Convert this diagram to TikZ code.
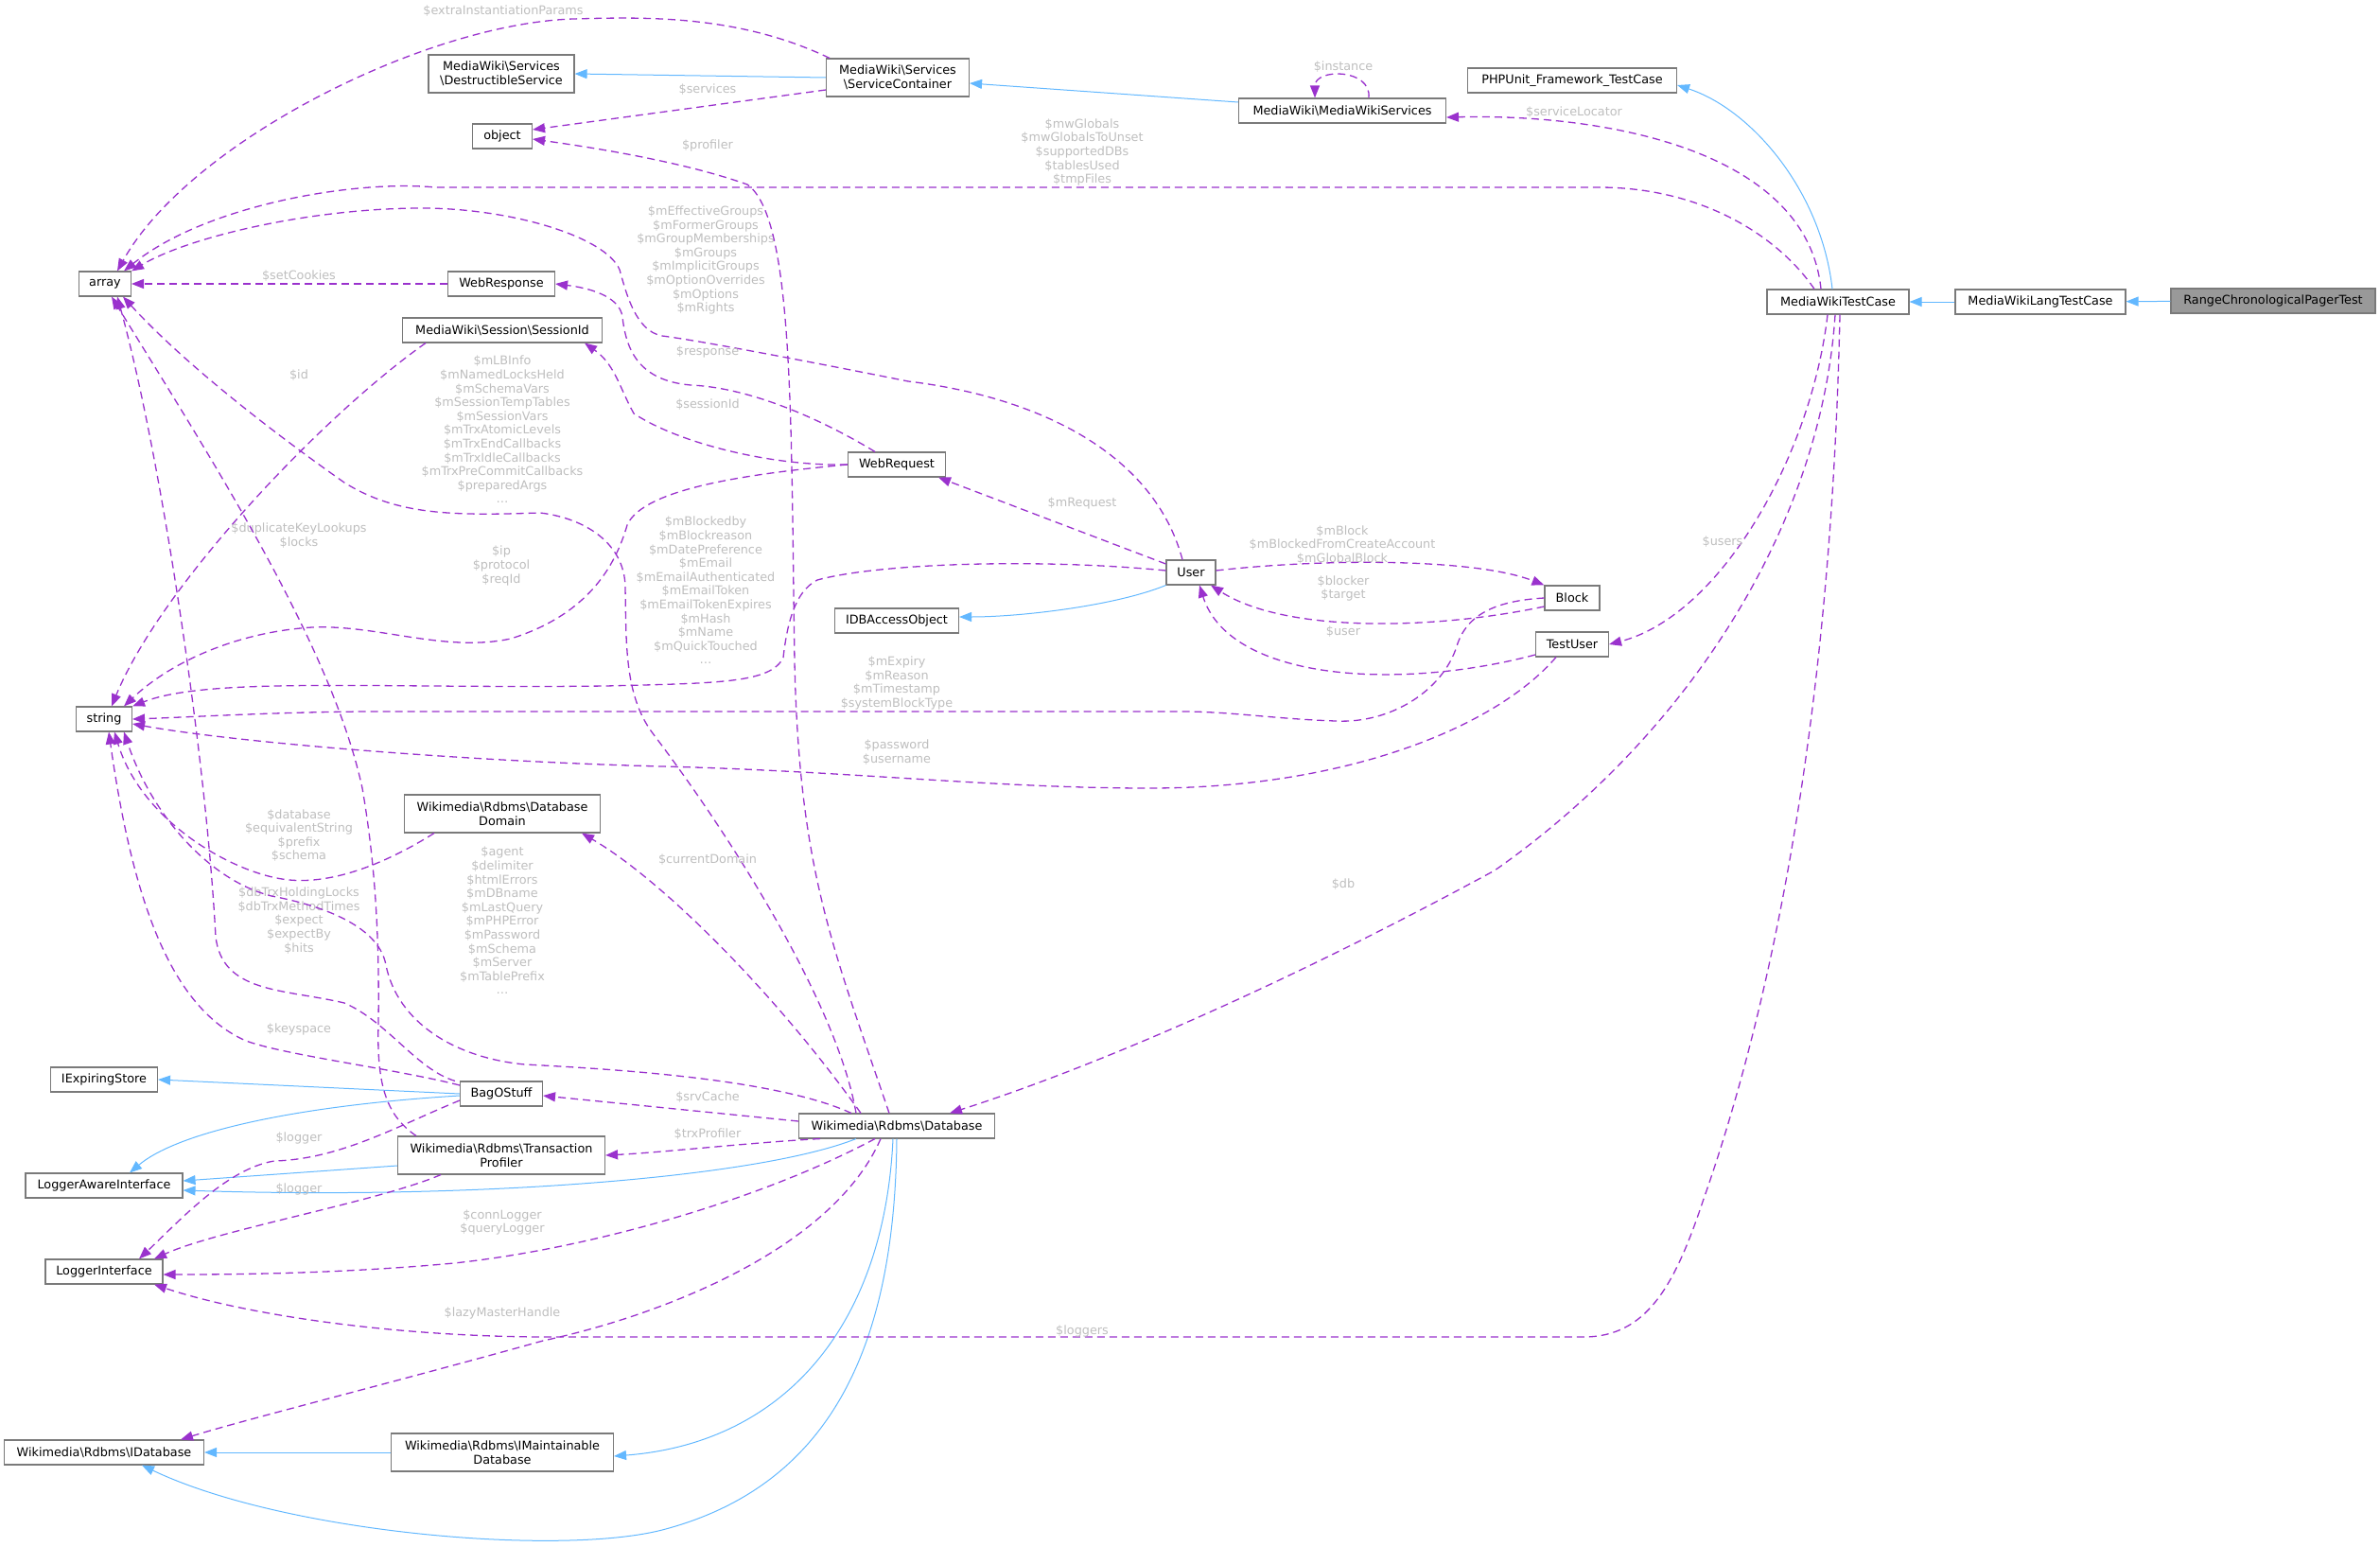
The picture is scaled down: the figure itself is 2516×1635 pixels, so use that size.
\documentclass[tikz,border=0pt]{standalone}
\usepackage{fontspec}
\setmainfont{DejaVu Sans}
\usetikzlibrary{arrows.meta}
\definecolor{inhblue}{HTML}{63B8FF}
\definecolor{usepurple}{HTML}{9A32CD}
\definecolor{lblgray}{HTML}{BEBEBE}
\definecolor{boxgray}{HTML}{7A7A7A}
\definecolor{curgray}{HTML}{999999}
\newcommand{\nsep}{\textbackslash}
\begin{document}
\begin{tikzpicture}[x=1pt, y=-1pt,
    cls/.style={draw=boxgray, fill=white, line width=1.1pt, font=\fontsize{12.8}{14.6}\selectfont, inner xsep=4pt, inner ysep=3pt, minimum height=26pt, align=center},
    cls2/.style={cls, minimum height=40pt},
    inh/.style={draw=inhblue, line width=1pt, -{Triangle[length=13pt,width=10pt]}},
    use/.style={draw=usepurple, line width=1.3pt, dash pattern=on 8pt off 5pt, -{Triangle[length=13pt,width=10pt]}},
    lbl/.style={text=lblgray, font=\fontsize{12.8}{14.6}\selectfont, align=center, inner sep=0pt}]
\useasboundingbox (0,0) rectangle (2516,1635);
% Classes
\node[cls, fill=curgray, minimum width=216pt] (rcpt) at (2403,318) {RangeChronologicalPagerTest};
\node[cls, minimum width=180pt] (mwlang) at (2157,319) {MediaWikiLangTestCase};
\node[cls, minimum width=150pt] (mwtc) at (1943,319) {MediaWikiTestCase};
\node[cls, minimum width=221pt] (phpunit) at (1662,85) {PHPUnit\_Framework\_TestCase};
\node[cls, minimum width=219pt] (mws) at (1419,117) {MediaWiki\nsep MediaWikiServices};
\node[cls2, minimum width=151pt] (sc) at (949,82) {MediaWiki\nsep Services\\\nsep ServiceContainer};
\node[cls2, minimum width=154pt] (ds) at (530,78) {MediaWiki\nsep Services\\\nsep DestructibleService};
\node[cls, minimum width=63pt] (obj) at (531,144) {object};
\node[cls, minimum width=55pt] (arr) at (111,300) {array};
\node[cls, minimum width=113pt] (wresp) at (530,300) {WebResponse};
\node[cls, minimum width=211pt] (sid) at (531,349) {MediaWiki\nsep Session\nsep SessionId};
\node[cls, minimum width=103pt] (wreq) at (948,491) {WebRequest};
\node[cls, minimum width=52pt] (usr) at (1259,605) {User};
\node[cls, minimum width=131pt] (idbao) at (948,656) {IDBAccessObject};
\node[cls, minimum width=58pt] (blk) at (1662,632) {Block};
\node[cls, minimum width=77pt] (tuser) at (1662,681) {TestUser};
\node[cls, minimum width=59pt] (str) at (110,760) {string};
\node[cls2, minimum width=207pt] (dbdom) at (531,860) {Wikimedia\nsep Rdbms\nsep Database\\Domain};
\node[cls, minimum width=113pt] (iexp) at (110,1141) {IExpiringStore};
\node[cls, minimum width=87pt] (bag) at (530,1156) {BagOStuff};
\node[cls2, minimum width=219pt] (trx) at (530,1221) {Wikimedia\nsep Rdbms\nsep Transaction\\Profiler};
\node[cls, minimum width=166pt] (lai) at (110,1253) {LoggerAwareInterface};
\node[cls, minimum width=207pt] (db) at (948,1190) {Wikimedia\nsep Rdbms\nsep Database};
\node[cls, minimum width=124pt] (logi) at (110,1344) {LoggerInterface};
\node[cls, minimum width=211pt] (idb) at (110,1535) {Wikimedia\nsep Rdbms\nsep IDatabase};
\node[cls2, minimum width=235pt] (imaint) at (531,1535) {Wikimedia\nsep Rdbms\nsep IMaintainable\\Database};
% Inheritance
\draw[inh] (rcpt) -- (mwlang);
\draw[inh] (mwlang) -- (mwtc);
\draw[inh] ([xshift=-6pt]mwtc.north) .. controls (1925,200) and (1850,115) .. ([yshift=-5pt]phpunit.east);
\draw[inh] ([yshift=9pt]mws.west) -- ([yshift=-6pt]sc.east);
\draw[inh] (sc.west) -- (ds.east);
\draw[inh] (usr.south west) .. controls (1180,640) and (1080,652) .. ([yshift=4pt]idbao.east);
\draw[inh] (bag.west) -- (iexp.east);
\draw[inh] ([yshift=-2pt]bag.west) .. controls (320,1168) and (190,1195) .. ([xshift=27pt]lai.north);
\draw[inh] ([yshift=-11pt]trx.west) -- ([yshift=5pt]lai.east);
\draw[inh] ([xshift=-43pt]db.south) .. controls (800,1245) and (500,1268) .. ([yshift=-5pt]lai.east);
\draw[inh] ([xshift=-4pt]db.south) .. controls (935,1400) and (830,1525) .. ([yshift=-4pt]imaint.east);
\draw[inh] (db.south) .. controls (946,1420) and (880,1570) .. (700,1617) .. controls (590,1645) and (300,1620) .. ([xshift=40pt]idb.south);
\draw[inh] (imaint) -- (idb);
% Services
\draw[use] ([xshift=-72pt]sc.north) .. controls (780,15) and (680,18) .. (606,20) .. controls (450,25) and (200,150) .. ([xshift=13pt]arr.north);
\node[lbl] at (532,12) {\$extraInstantiationParams};
\draw[use] ([yshift=-13pt]sc.west) -- ([yshift=7pt]obj.east);
\node[lbl] at (748,95) {\$services};
\draw[use] ([xshift=28pt]mws.north) .. controls (1450,72) and (1390,72) .. ([xshift=-29pt]mws.north);
\node[lbl] at (1420,71) {\$instance};
\draw[use] ([xshift=-18pt]mwtc.north) .. controls (1910,160) and (1700,120) .. ([yshift=-7pt]mws.east);
\node[lbl] at (1664,119) {\$serviceLocator};
\draw[use] ([xshift=-25pt]mwtc.north) .. controls (1880,250) and (1800,198) .. (1690,198) -- (460,198) .. controls (380,190) and (220,215) .. ([xshift=20pt]arr.north);
\node[lbl] at (1144,161) {\$mwGlobals\\\$mwGlobalsToUnset\\\$supportedDBs\\\$tablesUsed\\\$tmpFiles};
% User and requests
\draw[use] ([xshift=-9pt]usr.north) .. controls (1220,480) and (1100,420) .. (960,403) .. controls (870,385) and (740,360) .. (700,355) .. controls (672,350) and (662,310) .. (655,285) .. controls (640,250) and (540,220) .. (446,220) .. controls (330,220) and (200,250) .. (arr.north east);
\node[lbl] at (746,275) {\$mEffectiveGroups\\\$mFormerGroups\\\$mGroupMemberships\\\$mGroups\\\$mImplicitGroups\\\$mOptionOverrides\\\$mOptions\\\$mRights};
\draw[use] (wresp.west) -- (arr.east);
\node[lbl] at (316,292) {\$setCookies};
\draw[use] ([xshift=-23pt]wreq.north) .. controls (880,450) and (800,410) .. (730,407) .. controls (675,402) and (662,370) .. (658,335) .. controls (655,312) and (620,304) .. (wresp.east);
\node[lbl] at (748,372) {\$response};
\draw[use] (wreq.west) .. controls (820,493) and (720,470) .. (670,437) .. controls (655,410) and (650,385) .. ([xshift=87pt]sid.south);
\node[lbl] at (748,428) {\$sessionId};
\draw[use] ([xshift=-81pt]sid.south) .. controls (340,440) and (170,620) .. ([xshift=8pt]str.north);
\node[lbl] at (316,397) {\$id};
\draw[use] (wreq.west) .. controls (800,500) and (680,515) .. (663,555) .. controls (650,600) and (620,650) .. (540,675) .. controls (470,690) and (400,660) .. (330,663) .. controls (250,668) and (180,700) .. ([xshift=21pt]str.north);
\node[lbl] at (530,598) {\$ip\\\$protocol\\\$reqId};
\draw[use] ([yshift=9pt]usr.west) -- ([xshift=44pt]wreq.south);
\node[lbl] at (1144,532) {\$mRequest};
\draw[use] ([yshift=2pt]usr.west) .. controls (1100,590) and (930,595) .. (864,613) .. controls (840,625) and (832,660) .. (828,695) .. controls (815,722) and (760,722) .. (640,725) .. controls (400,728) and (220,715) .. (str.north east);
\node[lbl] at (746,624) {\$mBlockedby\\\$mBlockreason\\\$mDatePreference\\\$mEmail\\\$mEmailAuthenticated\\\$mEmailToken\\\$mEmailTokenExpires\\\$mHash\\\$mName\\\$mQuickTouched\\\dots};
% Block and test user
\draw[use] ([yshift=2pt]usr.east) .. controls (1400,590) and (1560,590) .. (blk.north west);
\node[lbl] at (1419,576) {\$mBlock\\\$mBlockedFromCreateAccount\\\$mGlobalBlock};
\draw[use] ([yshift=-9pt]blk.west) .. controls (1520,665) and (1360,670) .. ([xshift=21pt]usr.south);
\node[lbl] at (1420,622) {\$blocker\\\$target};
\draw[use] ([yshift=-11pt]tuser.west) .. controls (1480,730) and (1300,720) .. ([xshift=9pt]usr.south);
\node[lbl] at (1420,668) {\$user};
\draw[use] (blk.west) .. controls (1580,635) and (1550,650) .. (1540,683) .. controls (1525,730) and (1470,765) .. (1412,762) .. controls (1350,760) and (1300,752) .. (1250,752) -- (400,752) .. controls (300,752) and (200,758) .. (str.east);
\node[lbl] at (948,722) {\$mExpiry\\\$mReason\\\$mTimestamp\\\$systemBlockType};
\draw[use] ([xshift=-17pt]tuser.south) .. controls (1580,770) and (1420,833) .. (1215,833) .. controls (1050,833) and (900,815) .. (700,810) .. controls (500,805) and (250,785) .. ([yshift=-5pt]str.east);
\node[lbl] at (948,795) {\$password\\\$username};
\draw[use] ([xshift=-11pt]mwtc.south) .. controls (1915,480) and (1820,650) .. (tuser.east);
\node[lbl] at (1821,573) {\$users};
% Database
\draw[use] ([xshift=-3pt]mwtc.south) .. controls (1925,560) and (1780,780) .. (1580,920) .. controls (1350,1045) and (1150,1130) .. ([xshift=56pt]db.north);
\node[lbl] at (1420,935) {\$db};
\draw[use] ([xshift=-43pt]db.north) .. controls (885,1060) and (770,880) .. (690,775) .. controls (660,735) and (662,680) .. (661,620) .. controls (660,575) and (620,548) .. (571,542) .. controls (480,545) and (420,545) .. (364,510) .. controls (300,465) and (200,390) .. ([xshift=19pt]arr.south);
\node[lbl] at (531,454) {\$mLBInfo\\\$mNamedLocksHeld\\\$mSchemaVars\\\$mSessionTempTables\\\$mSessionVars\\\$mTrxAtomicLevels\\\$mTrxEndCallbacks\\\$mTrxIdleCallbacks\\\$mTrxPreCommitCallbacks\\\$preparedArgs\\\dots};
\draw[use] ([xshift=-49pt]bag.north) .. controls (440,1130) and (410,1080) .. (364,1060) .. controls (300,1045) and (235,1050) .. (228,990) .. controls (218,800) and (170,480) .. ([xshift=13pt]arr.south);
\node[lbl] at (316,566) {\$duplicateKeyLookups\\\$locks};
\draw[use] ([xshift=-90pt]trx.north) .. controls (410,1180) and (398,1150) .. (400,1083) .. controls (401,1000) and (398,920) .. (383,833) .. controls (350,680) and (220,480) .. ([xshift=7pt]arr.south);
\node[lbl] at (316,973) {\$dbTrxHoldingLocks\\\$dbTrxMethodTimes\\\$expect\\\$expectBy\\\$hits};
\draw[use] ([xshift=-48pt]db.north) .. controls (820,1140) and (650,1130) .. (555,1125) .. controls (480,1118) and (420,1080) .. (408,1020) .. controls (400,975) and (330,955) .. (287,947) .. controls (220,930) and (160,860) .. ([xshift=21pt]str.south);
\node[lbl] at (531,973) {\$agent\\\$delimiter\\\$htmlErrors\\\$mDBname\\\$mLastQuery\\\$mPHPError\\\$mPassword\\\$mSchema\\\$mServer\\\$mTablePrefix\\\dots};
\draw[use] ([xshift=-72pt]dbdom.south) .. controls (420,905) and (360,935) .. (306,930) .. controls (250,925) and (150,870) .. ([xshift=11pt]str.south);
\node[lbl] at (316,883) {\$database\\\$equivalentString\\\$prefix\\\$schema};
\draw[use] ([yshift=9pt]bag.west) .. controls (420,1130) and (300,1115) .. (260,1100) .. controls (180,1065) and (140,950) .. ([xshift=5pt]str.south);
\node[lbl] at (316,1088) {\$keyspace};
\draw[use] ([xshift=-38pt]db.north) .. controls (820,1050) and (700,930) .. ([xshift=84pt]dbdom.south);
\node[lbl] at (748,909) {\$currentDomain};
\draw[use] ([xshift=-8pt]db.north) .. controls (880,1000) and (845,920) .. (840,700) .. controls (836,450) and (840,230) .. (790,195) .. controls (720,170) and (620,155) .. ([yshift=-3pt]obj.east);
\node[lbl] at (748,154) {\$profiler};
\draw[use] ([yshift=5pt]db.west) -- ([yshift=-2pt]bag.east);
\node[lbl] at (748,1160) {\$srvCache};
\draw[use] ([xshift=-81pt]db.south) .. controls (800,1207) and (700,1218) .. (trx.east);
\node[lbl] at (748,1199) {\$trxProfiler};
% Loggers
\draw[use] ([yshift=-7pt]bag.west) .. controls (420,1190) and (360,1225) .. (290,1227) .. controls (240,1235) and (190,1290) .. ([xshift=37pt]logi.north);
\node[lbl] at (316,1203) {\$logger};
\draw[use] ([xshift=-64pt]trx.south) .. controls (400,1270) and (230,1300) .. ([xshift=53pt]logi.north);
\node[lbl] at (316,1257) {\$logger};
\draw[use] ([xshift=-23pt]db.south) .. controls (800,1270) and (620,1320) .. (480,1335) .. controls (350,1347) and (230,1347) .. ([yshift=-3pt]logi.east);
\node[lbl] at (531,1292) {\$connLogger\\\$queryLogger};
\draw[use] ([xshift=-17pt]db.south) .. controls (880,1320) and (700,1390) .. (574,1417) .. controls (420,1460) and (260,1500) .. ([xshift=81pt]idb.north);
\node[lbl] at (531,1388) {\$lazyMasterHandle};
\draw[use] ([xshift=2pt]mwtc.south) .. controls (1935,800) and (1860,1100) .. (1800,1270) .. controls (1770,1360) and (1740,1413) .. (1674,1413) -- (580,1413) .. controls (420,1413) and (260,1390) .. ([xshift=53pt]logi.south);
\node[lbl] at (1144,1407) {\$loggers};
\end{tikzpicture}
\end{document}
